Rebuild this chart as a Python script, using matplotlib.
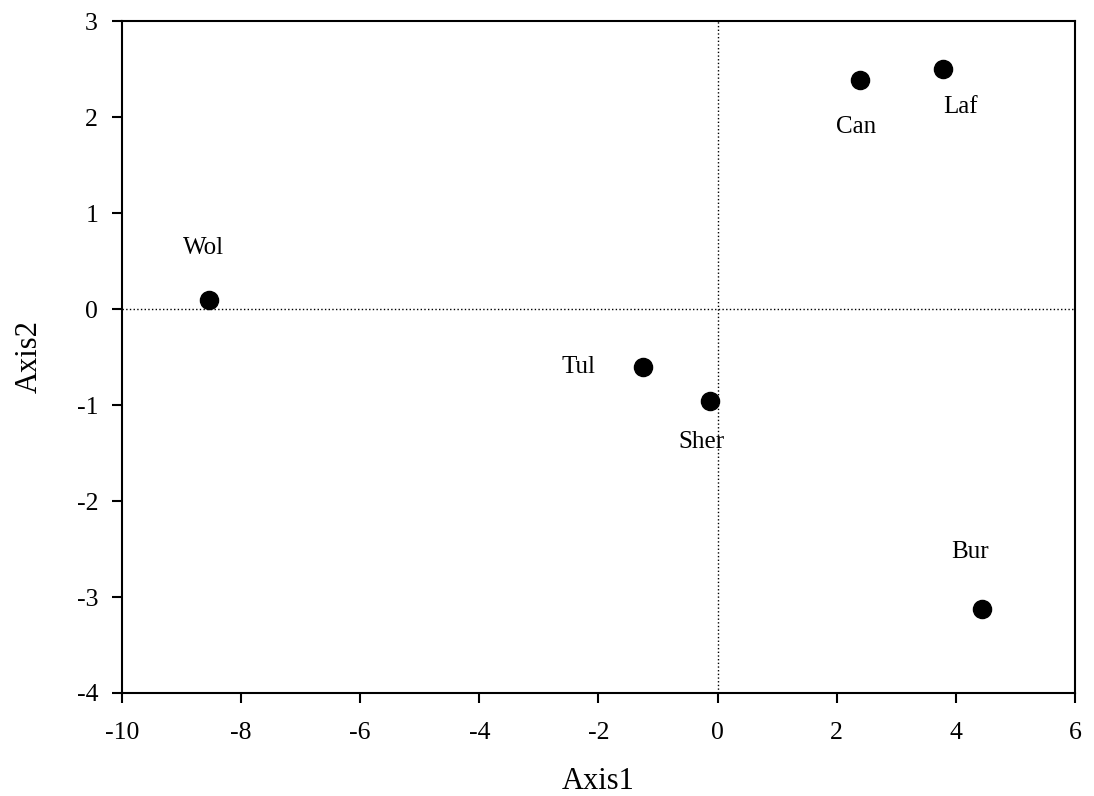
import matplotlib.pyplot as plt

plt.rcParams['font.family'] = ['Liberation Serif', 'DejaVu Serif']

# Site scores
sites = ['Wol', 'Tul', 'Sher', 'Can', 'Laf', 'Bur']
axis1 = [-8.54, -1.25, -0.12, 2.40, 3.79, 4.44]
axis2 = [0.09, -0.60, -0.96, 2.39, 2.50, -3.13]
# label offsets in pixels relative to each point
offsets = [(-5, 52), (-65, 0), (-9, -41), (-4, -47), (17, -38), (-12, 57)]

fig = plt.figure(figsize=(10.94, 7.96), dpi=100)
ax = fig.add_axes([0.1115, 0.1294, 0.871, 0.8442])

ax.axhline(0, color='black', linestyle=':', linewidth=1, zorder=1)
ax.axvline(0, color='black', linestyle=':', linewidth=1, zorder=1)
ax.scatter(axis1, axis2, s=170, color='black', zorder=3)

for name, x, y, off in zip(sites, axis1, axis2, offsets):
    ax.annotate(name, (x, y), xytext=off, textcoords='offset pixels',
                ha='center', va='center', fontsize=18)

ax.set_xlim(-10, 6)
ax.set_ylim(-4, 3)
ax.set_xticks(range(-10, 7, 2))
ax.set_yticks(range(-4, 4))
ax.set_xticklabels([str(v) for v in range(-10, 7, 2)])
ax.set_yticklabels([str(v) for v in range(-4, 4)])
ax.tick_params(direction='out', length=7.2, width=1.5, labelsize=18.5,
               top=False, right=False)
ax.tick_params(axis='x', pad=14)
ax.tick_params(axis='y', pad=10)
for sp in ax.spines.values():
    sp.set_linewidth(1.5)

ax.set_xlabel('Axis1', fontsize=22, labelpad=16)
ax.set_ylabel('Axis2', fontsize=22, labelpad=24)

plt.savefig('out.png', dpi=100)
